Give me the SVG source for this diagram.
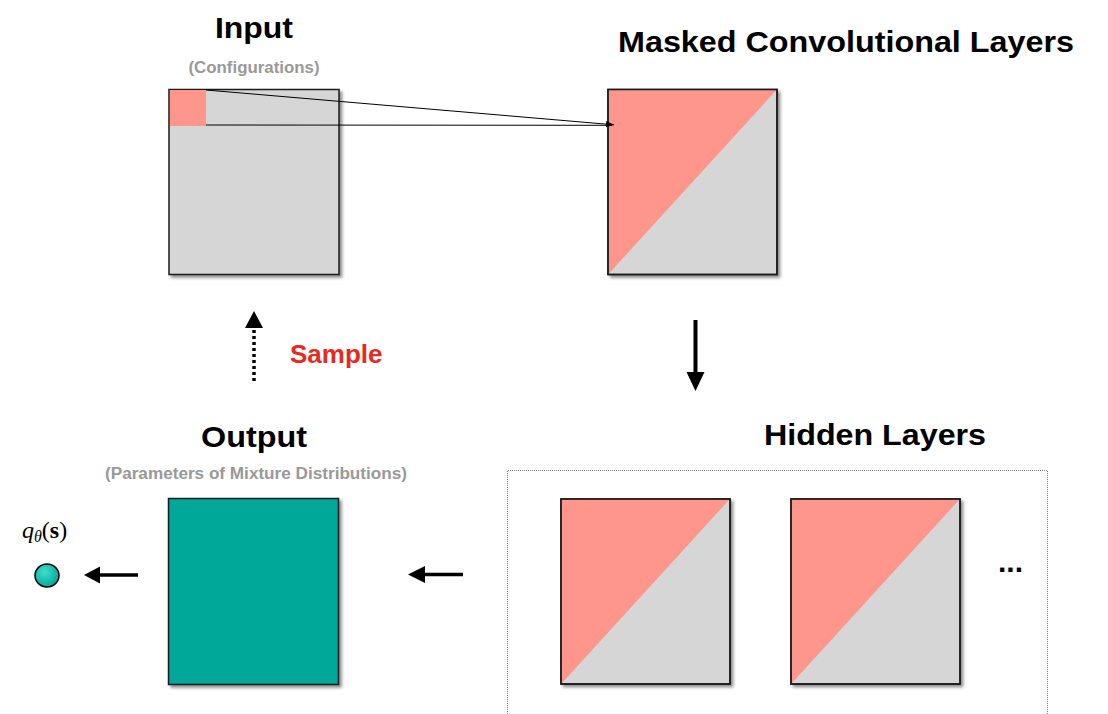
<svg xmlns="http://www.w3.org/2000/svg" width="1108" height="714" viewBox="0 0 1108 714">
  <defs>
    <filter id="shadow" x="-10%" y="-10%" width="125%" height="125%">
      <feDropShadow dx="2.5" dy="2.5" stdDeviation="1.5" flood-color="#000" flood-opacity="0.45"/>
    </filter>
    <radialGradient id="dotFill" cx="0.4" cy="0.35" r="0.7">
      <stop offset="0" stop-color="#3fe0cf"/>
      <stop offset="1" stop-color="#00a393"/>
    </radialGradient>
    <marker id="thinHead" viewBox="0 0 10 10" refX="10" refY="5" markerWidth="8" markerHeight="8" markerUnits="userSpaceOnUse" orient="auto">
      <path d="M0,1 L10,5 L0,9 z" fill="#000"/>
    </marker>
  </defs>
  <style>
    .title { font-family: "Liberation Sans", Arial, sans-serif; font-weight: bold; font-size: 30px; fill: #000; text-anchor: middle; }
    .sub { font-family: "Liberation Sans", Arial, sans-serif; font-weight: bold; font-size: 16px; fill: #999999; text-anchor: middle; }
    .frame { stroke: #1a1a1a; stroke-width: 1.5; filter: url(#shadow); }
    .mask { fill: #ff968c; }
    .grey { fill: #d6d6d6; }
    .arrow { stroke: #000; fill: none; }
  </style>

  <rect width="1108" height="714" fill="#fff"/>

  <!-- input grid with the active patch -->
  <g id="input">
    <text class="title" x="254" y="38" textLength="78" lengthAdjust="spacingAndGlyphs">Input</text>
    <text class="sub" x="254" y="73" textLength="131" lengthAdjust="spacingAndGlyphs">(Configurations)</text>
    <rect class="frame grey" x="169" y="89.5" width="170" height="185"/>
    <rect class="mask" x="170" y="90" width="36" height="36"/>
  </g>

  <!-- masked convolution -->
  <g id="masked-conv">
    <text class="title" x="846" y="52" textLength="456" lengthAdjust="spacingAndGlyphs">Masked Convolutional Layers</text>
    <rect class="frame grey" x="608" y="89.5" width="169" height="185"/>
    <polygon class="mask" points="608.8,90.3 776.2,90.3 608.8,273.7"/>
    <rect x="608" y="89.5" width="169" height="185" fill="none" stroke="#1a1a1a" stroke-width="1.5"/>
  </g>

  <!-- hidden layers -->
  <g id="hidden-layers">
    <text class="title" x="875" y="445" textLength="222" lengthAdjust="spacingAndGlyphs">Hidden Layers</text>
    <path d="M507.5,720 L507.5,470.5 L1047.5,470.5 L1047.5,720" fill="none" stroke="#7a7a7a" stroke-width="1" stroke-dasharray="1,1"/>
    <g id="hidden-1">
      <rect class="frame grey" x="561" y="499" width="169" height="185"/>
      <polygon class="mask" points="561.8,499.8 729.2,499.8 561.8,683.2"/>
      <rect x="561" y="499" width="169" height="185" fill="none" stroke="#1a1a1a" stroke-width="1.5"/>
    </g>
    <g id="hidden-2">
      <rect class="frame grey" x="791" y="499" width="169" height="185"/>
      <polygon class="mask" points="791.8,499.8 959.2,499.8 791.8,683.2"/>
      <rect x="791" y="499" width="169" height="185" fill="none" stroke="#1a1a1a" stroke-width="1.5"/>
    </g>
    <text x="998" y="572" font-family="Liberation Sans, Arial, sans-serif" font-weight="bold" font-size="30" fill="#000">...</text>
  </g>

  <!-- output -->
  <g id="output">
    <text class="title" x="254" y="447" textLength="106" lengthAdjust="spacingAndGlyphs">Output</text>
    <text class="sub" x="256" y="479" textLength="302" lengthAdjust="spacingAndGlyphs">(Parameters of Mixture Distributions)</text>
    <rect class="frame" x="168.5" y="498.5" width="170" height="186" fill="#00a89a"/>
  </g>

  <!-- sampled probability -->
  <g id="probability">
    <text x="22" y="538" font-family="Liberation Serif, Times New Roman, serif" font-size="24" fill="#000"><tspan font-style="italic">q</tspan><tspan font-style="italic" font-size="16" dy="4">θ</tspan><tspan dy="-4">(</tspan><tspan font-weight="bold">s</tspan><tspan>)</tspan></text>
    <ellipse cx="47" cy="575.5" rx="12" ry="11.5" fill="url(#dotFill)" stroke="#000" stroke-width="1.5"/>
  </g>

  <!-- connectors -->
  <g id="connectors">
    <line x1="206" y1="90" x2="614" y2="124.8" stroke="#000" stroke-width="1" marker-end="url(#thinHead)"/>
    <line x1="206" y1="125" x2="612" y2="125.3" stroke="#000" stroke-width="1"/>

    <!-- masked conv to hidden -->
    <line class="arrow" x1="695.5" y1="320" x2="695.5" y2="374" stroke-width="4"/>
    <polygon points="686.5,372 704.5,372 695.5,391" fill="#000"/>

    <!-- hidden to output -->
    <line class="arrow" x1="463" y1="574.5" x2="423" y2="574.5" stroke-width="3.5"/>
    <polygon points="425,566 425,583 408,574.5" fill="#000"/>

    <!-- output to probability -->
    <line class="arrow" x1="138" y1="575" x2="98" y2="575" stroke-width="3.5"/>
    <polygon points="100,566.5 100,583.5 84,575" fill="#000"/>

    <!-- sampling back to input -->
    <line class="arrow" x1="254" y1="381" x2="254" y2="329" stroke-width="3.5" stroke-dasharray="3,3"/>
    <polygon points="245,328 263,328 254,311" fill="#000"/>
  </g>

  <text x="290" y="363" font-family="Liberation Sans, Arial, sans-serif" font-weight="bold" font-size="26" fill="#e62a1e">Sample</text>
</svg>
